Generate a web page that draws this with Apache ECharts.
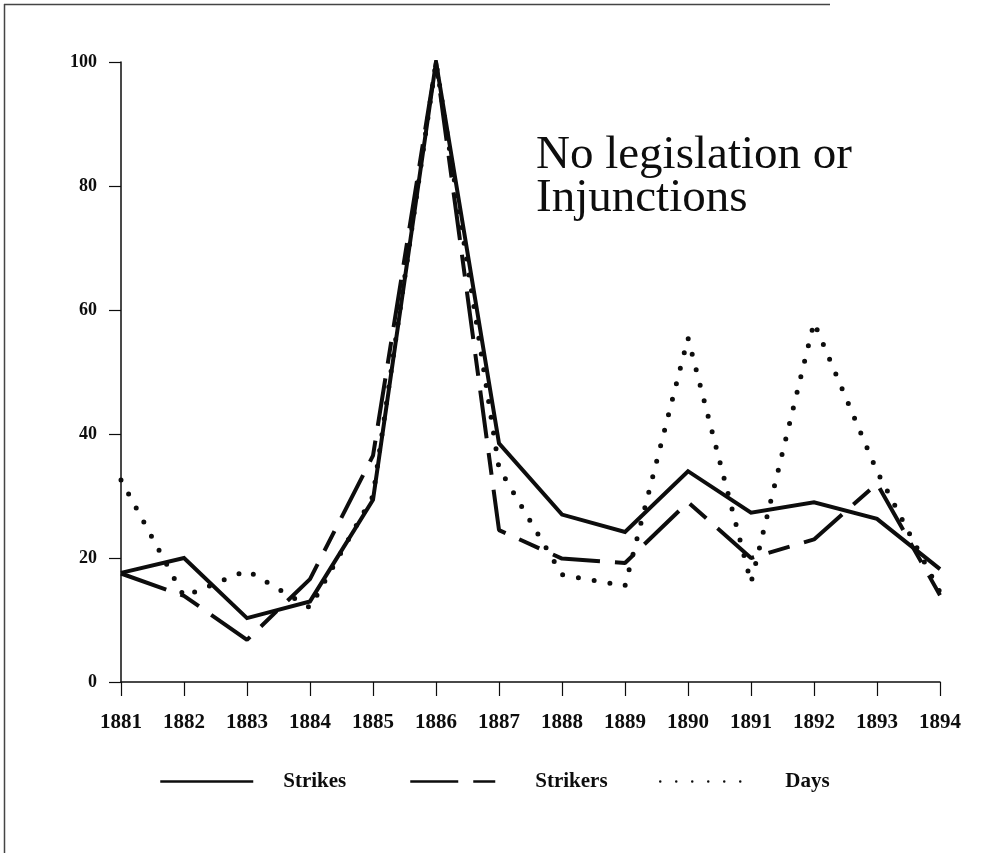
<!DOCTYPE html>
<html>
<head>
<meta charset="utf-8">
<script src="https://cdn.jsdelivr.net/npm/echarts@6/dist/echarts.min.js"></script>
<style>
html,body{margin:0;padding:0;background:#fff;}
#chart{width:1006px;height:853px;}
</style>
</head>
<body>
<div id="chart"></div>
<script>
const years = ['1881','1882','1883','1884','1885','1886','1887','1888','1889','1890','1891','1892','1893','1894'];
const strikes  = [17.6, 20, 10.3, 13, 29.4, 100, 38.5, 27, 24.2, 34, 27.3, 29, 26.3, 18.2];
const strikers = [17.5, 13.9, 6.8, 16.6, 36.5, 100, 24.5, 19.9, 19.2, 29, 20, 23, 32, 14];
const days     = [32.6, 13.8, 18, 12, 30, 100, 34.5, 17.3, 15.5, 55.5, 16, 58, 34, 14.5];
const yTicks = [0, 20, 40, 60, 80, 100];
const annotation = 'No legislation or\nInjunctions';

const serif = '"Liberation Serif", "Times New Roman", serif';
const ink = '#0d0d0d';

const legendText = {fontFamily: serif, fontSize: 21, fontWeight: 'bold', color: ink};

const chart = echarts.init(document.getElementById('chart'), null, {renderer: 'canvas'});
chart.setOption({
  animation: false,
  backgroundColor: '#fff',
  title: {
    text: annotation,
    left: 536,
    top: 134,
    padding: 0,
    textStyle: {fontFamily: serif, fontSize: 47, fontWeight: 'normal', lineHeight: 43, color: ink}
  },
  grid: {left: 121, right: 66, top: 62, bottom: 171, containLabel: false},
  xAxis: {
    type: 'category',
    data: years,
    boundaryGap: false,
    axisLine: {lineStyle: {color: ink, width: 1.5}},
    axisTick: {length: 14, lineStyle: {color: ink, width: 1.2}},
    axisLabel: {margin: 30, fontFamily: serif, fontSize: 21, fontWeight: 'bold', color: ink}
  },
  yAxis: {
    type: 'value',
    min: yTicks[0],
    max: yTicks[yTicks.length - 1],
    interval: 20,
    splitLine: {show: false},
    axisLine: {show: true, lineStyle: {color: ink, width: 1.5}},
    axisTick: {show: true, length: 12, lineStyle: {color: ink, width: 1.2}},
    axisLabel: {margin: 24, fontFamily: serif, fontSize: 18, fontWeight: 'bold', color: ink}
  },
  legend: [
    {data: ['Strikes'], left: 159, top: 771, itemWidth: 93, itemHeight: 14, padding: 0,
     itemStyle: {opacity: 0}, lineStyle: {width: 2.5},
     textStyle: Object.assign({padding: [0, 0, 0, 25]}, legendText)},
    {data: ['Strikers'], left: 409, top: 771, itemWidth: 94, itemHeight: 14, padding: 0,
     itemStyle: {opacity: 0}, lineStyle: {width: 2.5},
     textStyle: Object.assign({padding: [0, 0, 0, 26]}, legendText)},
    {data: ['Days'], left: 659, top: 771, itemWidth: 96, itemHeight: 14, padding: 0,
     itemStyle: {opacity: 0}, lineStyle: {width: 2.5},
     textStyle: Object.assign({padding: [0, 0, 0, 24]}, legendText)}
  ],
  series: [
    {name: 'Strikes', type: 'line', data: strikes, symbol: 'none',
     lineStyle: {color: ink, width: 4, join: 'miter'}, itemStyle: {color: ink}},
    {name: 'Strikers', type: 'line', data: strikers, symbol: 'none',
     lineStyle: {color: ink, width: 4, type: [48, 15, 22, 15]}, itemStyle: {color: ink}},
    {name: 'Days', type: 'line', data: days, symbol: 'none',
     lineStyle: {color: ink, width: 5, type: [0, 16], cap: 'round'}, itemStyle: {color: ink}}
  ],
  graphic: [
    {type: 'line', shape: {x1: 4.5, y1: 4, x2: 4.5, y2: 853}, style: {stroke: '#444', lineWidth: 1.5}, silent: true},
    {type: 'line', shape: {x1: 4, y1: 4.5, x2: 830, y2: 4.5}, style: {stroke: '#444', lineWidth: 1.5}, silent: true}
  ]
});
</script>
</body>
</html>
